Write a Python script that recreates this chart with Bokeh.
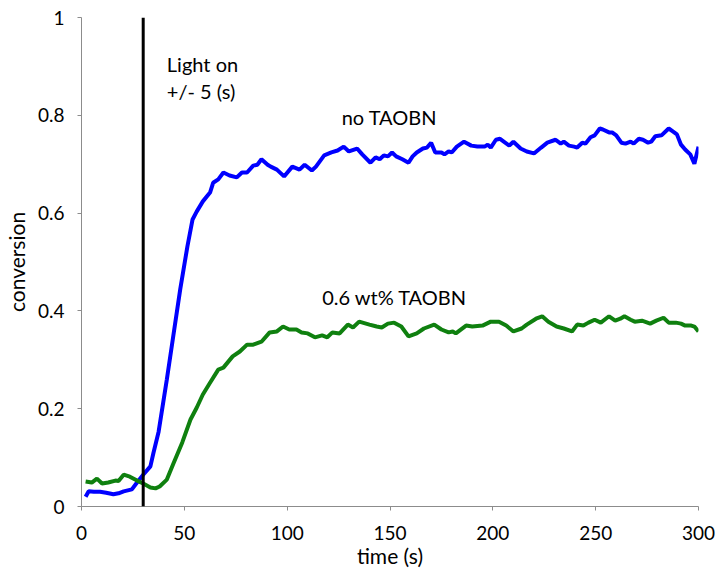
from bokeh.plotting import figure
from bokeh.models import Label, Span, FixedTicker, CustomJSTickFormatter, Range1d
from bokeh.embed import file_html
from bokeh.resources import INLINE

# ---- data ----
t_blue = [2, 3.5, 6, 9, 12, 15.5, 18, 20.5, 24.5, 27,
          30, 33.5, 35, 37.5, 41.5, 44.5, 48, 51.5, 54, 56,
          59, 62.5, 64, 66.5, 69, 72, 75.5, 78, 80.5, 83.5,
          85.5, 87.5, 90.5, 92, 95, 98.5, 102.5, 106, 108.5, 112,
          114, 118, 121.5, 124.5, 127.5, 130, 134, 136.5, 140.5, 143,
          145, 147, 149, 151, 153, 156, 159, 161, 163, 166,
          168, 170, 172, 175, 176.5, 178.5, 180, 182.5, 186, 189.5,
          192.5, 196, 197.5, 199, 201.5, 203.5, 208, 210, 213.5, 216.5,
          220, 223.5, 226.5, 230.5, 233, 234.5, 237, 239.5, 241, 243.5,
          245, 247.5, 249.5, 252, 253.5, 256.5, 258, 260, 262.5, 264.5,
          267, 268.5, 271, 273, 275.5, 277, 279, 282, 285.5, 287.5,
          289.5, 291.5, 293.5, 296, 298, 300]
conv_no_taobn = [0.020, 0.031, 0.030, 0.030, 0.028, 0.025, 0.027, 0.031, 0.035, 0.049,
                 0.065, 0.082, 0.110, 0.153, 0.260, 0.345, 0.444, 0.532, 0.587, 0.603,
                 0.624, 0.642, 0.662, 0.669, 0.683, 0.677, 0.673, 0.683, 0.683, 0.697,
                 0.699, 0.710, 0.699, 0.695, 0.689, 0.675, 0.695, 0.689, 0.699, 0.687,
                 0.695, 0.718, 0.724, 0.728, 0.736, 0.726, 0.732, 0.720, 0.703, 0.714,
                 0.710, 0.718, 0.716, 0.724, 0.716, 0.710, 0.703, 0.716, 0.724, 0.732,
                 0.734, 0.744, 0.724, 0.724, 0.720, 0.726, 0.724, 0.736, 0.746, 0.738,
                 0.736, 0.736, 0.740, 0.734, 0.750, 0.752, 0.738, 0.746, 0.732, 0.726,
                 0.722, 0.734, 0.744, 0.750, 0.742, 0.746, 0.738, 0.736, 0.734, 0.744,
                 0.742, 0.755, 0.759, 0.773, 0.771, 0.765, 0.765, 0.759, 0.744, 0.742,
                 0.746, 0.742, 0.752, 0.750, 0.744, 0.746, 0.757, 0.759, 0.773, 0.767,
                 0.761, 0.740, 0.730, 0.720, 0.701, 0.736]

t_green = [2, 5, 7.5, 10, 13, 16.5, 18, 20.5, 23.5, 27,
           30, 33.5, 36, 38, 41.5, 44.5, 49, 53, 56, 59,
           62.5, 66.5, 69, 73.5, 77, 80.5, 83.5, 87.5, 91.5, 95,
           98, 101, 104.5, 107, 110, 113.5, 117, 119.5, 122, 125.5,
           129.5, 132, 135, 140, 143.5, 146, 149, 152, 155.5, 159,
           163, 166.5, 171.5, 175, 178.5, 180.5, 182, 187, 190, 195,
           197, 199, 203, 206.5, 210, 214, 216.5, 221, 224, 227,
           231, 234.5, 238.5, 241, 244, 246.5, 249.5, 252.5, 256.5, 259.5,
           262, 264, 267, 269, 272.5, 276.5, 279.5, 283, 285.5, 289,
           291.5, 293.5, 296.5, 298, 300]
conv_taobn = [0.051, 0.049, 0.057, 0.047, 0.049, 0.053, 0.052, 0.065, 0.061, 0.053,
              0.047, 0.039, 0.037, 0.041, 0.055, 0.086, 0.131, 0.178, 0.202, 0.229,
              0.253, 0.280, 0.284, 0.307, 0.317, 0.331, 0.331, 0.337, 0.356, 0.358,
              0.368, 0.362, 0.362, 0.356, 0.354, 0.346, 0.350, 0.346, 0.356, 0.354,
              0.372, 0.366, 0.378, 0.372, 0.368, 0.366, 0.374, 0.376, 0.368, 0.348,
              0.354, 0.364, 0.372, 0.362, 0.356, 0.358, 0.354, 0.370, 0.368, 0.370,
              0.374, 0.378, 0.378, 0.370, 0.358, 0.364, 0.372, 0.384, 0.389, 0.378,
              0.368, 0.364, 0.358, 0.372, 0.370, 0.376, 0.382, 0.376, 0.389, 0.380,
              0.384, 0.389, 0.382, 0.378, 0.380, 0.374, 0.380, 0.386, 0.376, 0.376,
              0.374, 0.370, 0.370, 0.368, 0.358]

light_on_time = 30
x_ticks = [0, 50, 100, 150, 200, 250, 300]
y_ticks = [0, 0.2, 0.4, 0.6, 0.8, 1]

FONT = "Lato"

p = figure(output_backend="svg", toolbar_location=None,
           frame_width=617, frame_height=489,
           min_border_left=76, min_border_top=17, min_border_right=17, min_border_bottom=52,
           x_range=Range1d(0, 300), y_range=Range1d(0, 1))
p.outline_line_color = None
p.xgrid.visible = False
p.ygrid.visible = False
p.background_fill_color = "white"
p.border_fill_color = "white"

p.line(t_blue, conv_no_taobn, line_color="#0000ff", line_width=4)
p.line(t_green, conv_taobn, line_color="#0f800f", line_width=4)

p.add_layout(Span(location=light_on_time, dimension="height",
                  line_color="black", line_width=3))

for ax in (p.xaxis[0], p.yaxis[0]):
    ax.axis_line_color = "#8c8c8c"
    ax.major_tick_line_color = "#8c8c8c"
    ax.major_tick_in = 0
    ax.major_tick_out = 4
    ax.minor_tick_line_color = None
    ax.major_label_text_font = FONT
    ax.major_label_text_font_size = "19px"
    ax.major_label_text_color = "black"
    ax.axis_label_text_font = FONT
    ax.axis_label_text_font_size = "21px"
    ax.axis_label_text_font_style = "normal"
    ax.axis_label_text_color = "black"
    ax.formatter = CustomJSTickFormatter(code="return String(tick);")

p.xaxis.ticker = FixedTicker(ticks=x_ticks)
p.yaxis.ticker = FixedTicker(ticks=y_ticks)
p.xaxis.axis_label = "time (s)"
p.yaxis.axis_label = "conversion"
p.xaxis.major_label_standoff = 15
p.yaxis.major_label_standoff = 13
p.xaxis.axis_label_standoff = 0
p.yaxis.axis_label_standoff = 6

def add_label(x, y, text, size="20px"):
    p.add_layout(Label(x=x, y=y, text=text, text_font=FONT, text_font_size=size,
                       text_color="black", text_baseline="middle", text_align="left"))

add_label(41.5, 0.905, "Light on")
add_label(41.5, 0.850, "+/- 5 (s)")
add_label(126.5, 0.797, "no TAOBN")
add_label(117, 0.429, "0.6 wt% TAOBN")

open("out.html", "w").write(file_html(p, INLINE))
